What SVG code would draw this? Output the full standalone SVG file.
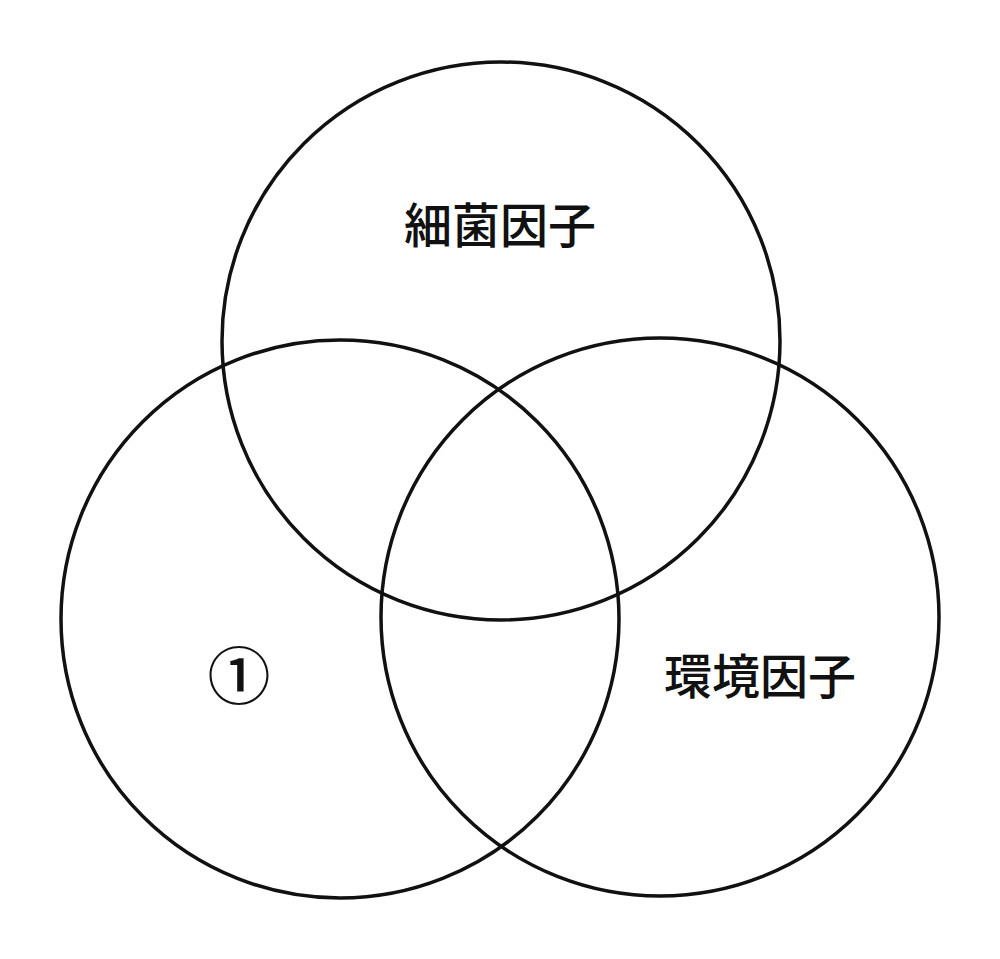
<svg xmlns="http://www.w3.org/2000/svg" width="1000" height="959" viewBox="0 0 1000 959">
<style>
.c{fill:none;stroke:#111;stroke-width:3.5}
.t{font-family:"Noto Sans CJK JP","Noto Sans CJK SC",sans-serif;font-size:48px;font-weight:500;fill:#111;text-anchor:middle}
</style>
<rect width="1000" height="959" fill="#fff"/>
<g id="bacteria">
<circle class="c" cx="501" cy="341" r="279"/>
<text class="t" x="500" y="243">細菌因子</text>
</g>
<g id="host">
<circle class="c" cx="340" cy="619" r="279"/>
<text class="t" x="239" y="699" style="font-size:63px">①</text>
</g>
<g id="environment">
<circle class="c" cx="660" cy="617" r="279"/>
<text class="t" x="760" y="694">環境因子</text>
</g>
<g id="connectors"/>
</svg>
